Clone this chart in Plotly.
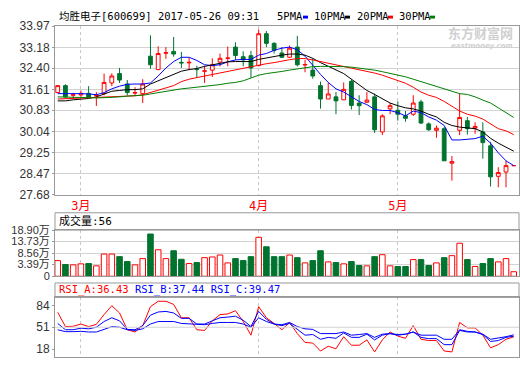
import plotly.graph_objects as go

W, H = 520, 365

# ---------------- data ----------------
open_ = [31.49, 31.75, 31.39, 31.40, 31.46, 31.38, 31.45, 31.85, 32.20, 31.81,
         31.47, 31.45, 32.85, 32.35, 32.96, 33.03, 32.62, 32.60, 32.36, 32.29,
         32.33, 32.63, 32.77, 33.19, 32.83, 32.87, 32.50, 33.69, 33.33, 32.97,
         32.81, 33.19, 32.52, 32.33, 31.75, 31.25, 31.33, 31.22, 31.91, 31.10,
         31.13, 31.33, 30.02, 30.88, 30.83, 30.62, 30.68, 31.14, 30.32, 30.08,
         30.14, 28.85, 30.08, 30.44, 30.16, 30.02, 29.50, 28.36, 28.52, 28.76]
high = [31.77, 31.80, 31.48, 31.57, 31.73, 31.51, 32.20, 32.21, 32.41, 31.96,
        31.69, 31.99, 33.63, 33.22, 33.19, 33.57, 33.01, 32.79, 32.49, 32.49,
        32.77, 32.95, 33.21, 33.37, 33.03, 33.05, 33.85, 33.79, 33.37, 33.19,
        33.25, 33.61, 32.71, 32.77, 31.90, 31.87, 31.51, 31.87, 31.99, 31.39,
        31.51, 31.45, 30.68, 31.10, 31.16, 30.80, 31.39, 31.22, 30.38, 30.26,
        30.20, 29.12, 31.46, 30.58, 30.38, 30.38, 29.65, 28.70, 28.94, 28.76]
low = [31.48, 31.30, 31.25, 31.33, 31.30, 30.99, 31.39, 31.73, 31.85, 31.39,
       31.37, 31.10, 32.38, 32.33, 32.75, 32.83, 32.41, 32.33, 32.04, 31.85,
       32.07, 32.47, 32.47, 32.71, 32.47, 32.04, 32.47, 33.19, 32.95, 32.78,
       32.78, 32.47, 32.25, 32.01, 30.89, 31.25, 30.68, 31.22, 30.86, 30.65,
       31.10, 29.98, 29.90, 30.68, 30.44, 30.40, 30.62, 30.32, 30.06, 29.80,
       28.94, 28.20, 29.90, 29.92, 29.95, 29.02, 27.98, 27.95, 27.95, 28.76]
close = [31.75, 31.33, 31.41, 31.46, 31.32, 31.40, 31.87, 32.11, 31.96, 31.49,
         31.49, 31.81, 32.53, 32.95, 32.98, 32.93, 32.60, 32.62, 32.35, 32.30,
         32.53, 32.77, 32.78, 32.88, 32.71, 32.41, 33.69, 33.33, 33.07, 32.81,
         33.15, 32.53, 32.54, 32.11, 31.25, 31.44, 31.18, 31.61, 31.01, 31.00,
         31.21, 30.10, 30.62, 31.00, 30.68, 30.53, 31.10, 30.35, 30.10, 30.16,
         28.94, 28.91, 30.56, 30.14, 30.22, 29.62, 28.34, 28.50, 28.76, 28.76]

ma5 = [31.45, 31.45, 31.47, 31.45, 31.44, 31.41, 31.49, 31.63, 31.73, 31.80,
       31.81, 31.81, 31.85, 32.11, 32.41, 32.65, 32.81, 32.81, 32.69, 32.53,
       32.50, 32.53, 32.64, 32.71, 32.73, 32.73, 32.89, 32.95, 33.07, 33.15,
       33.19, 33.09, 32.85, 32.50, 32.17, 31.87, 31.63, 31.51, 31.33, 31.16,
       31.04, 30.86, 30.82, 30.82, 30.74, 30.62, 30.80, 30.74, 30.58, 30.46,
       30.26, 29.72, 29.72, 29.74, 29.77, 29.86, 29.60, 29.24, 28.94, 28.76]
ma10 = [31.18, 31.18, 31.22, 31.24, 31.27, 31.33, 31.45, 31.54, 31.57, 31.60,
        31.60, 31.63, 31.81, 31.93, 32.05, 32.17, 32.29, 32.35, 32.39, 32.47,
        32.53, 32.59, 32.64, 32.65, 32.64, 32.65, 32.73, 32.79, 32.85, 32.89,
        32.93, 32.93, 32.89, 32.77, 32.61, 32.47, 32.35, 32.20, 31.99, 31.78,
        31.57, 31.42, 31.25, 31.10, 31.00, 30.92, 30.88, 30.80, 30.68, 30.58,
        30.38, 30.26, 30.20, 30.17, 30.14, 30.02, 29.78, 29.60, 29.46, 29.30]
ma20 = [31.25, 31.26, 31.28, 31.29, 31.30, 31.31, 31.32, 31.34, 31.35, 31.36,
        31.37, 31.41, 31.49, 31.57, 31.66, 31.75, 31.90, 31.99, 32.05, 32.11,
        32.15, 32.21, 32.28, 32.35, 32.41, 32.47, 32.53, 32.57, 32.61, 32.67,
        32.72, 32.76, 32.76, 32.71, 32.65, 32.59, 32.53, 32.47, 32.41, 32.36,
        32.29, 32.22, 32.14, 32.03, 31.93, 31.84, 31.69, 31.51, 31.39, 31.31,
        31.16, 30.98, 30.80, 30.68, 30.61, 30.50, 30.32, 30.14, 30.06, 29.92]
ma30 = [31.33, 31.32, 31.31, 31.30, 31.29, 31.29, 31.30, 31.31, 31.33, 31.36,
        31.37, 31.39, 31.44, 31.49, 31.54, 31.60, 31.63, 31.66, 31.69, 31.73,
        31.75, 31.79, 31.84, 31.87, 31.93, 32.03, 32.14, 32.20, 32.23, 32.28,
        32.33, 32.38, 32.42, 32.46, 32.47, 32.47, 32.47, 32.46, 32.44, 32.41,
        32.38, 32.33, 32.27, 32.21, 32.15, 32.08, 31.99, 31.90, 31.81, 31.73,
        31.63, 31.54, 31.45, 31.42, 31.33, 31.21, 31.10, 30.92, 30.74, 30.56]

# volume in 万 (as read against the printed labels)
volume = [5.16, 3.39, 3.24, 3.69, 3.83, 2.80, 8.12, 8.12, 6.94, 4.72,
          3.24, 6.05, 17.13, 10.04, 6.05, 9.59, 5.75, 3.83, 4.28, 6.49,
          6.79, 7.67, 4.13, 6.05, 5.16, 6.94, 15.65, 11.37, 6.94, 6.94,
          7.67, 6.49, 4.13, 5.16, 9.59, 4.57, 4.28, 3.69, 4.72, 2.95,
          2.80, 6.94, 7.82, 2.80, 2.50, 2.50, 5.60, 5.60, 2.95, 4.13,
          6.49, 7.38, 12.99, 5.60, 2.50, 3.83, 6.05, 4.57, 6.05, 0.14]

rsi_a = [73.5, 52, 52.4, 55.8, 52, 55.3, 70.1, 83.5, 72.5, 47.2,
         43.8, 53.4, 82.1, 90.2, 90.2, 85.4, 65.3, 65.3, 47.2, 46.2,
         60.6, 70.1, 71.1, 75.9, 59.6, 39, 82.1, 65.3, 56.7, 47.2,
         58.2, 41.4, 28, 27.1, 15.1, 22.3, 18.5, 36.7, 23.8, 23.8,
         31.9, 13.7, 31.9, 43.8, 37.6, 34.3, 53.4, 32.8, 30.9, 30.9,
         15.1, 13.7, 58.2, 50, 50, 39, 19.9, 24.7, 32.8, 36.43]
rsi_b = [56.7, 47.2, 47.2, 49.6, 48.6, 51, 59.6, 65.3, 60.6, 47.7,
         47.2, 53.4, 69.2, 74, 74.9, 72.5, 64.4, 64.4, 55.8, 55.8,
         60.6, 65.3, 66.3, 67.7, 61.5, 52, 74.9, 63, 55.8, 53.4,
         56.7, 47.2, 39, 40, 32.8, 35.7, 34.3, 42.4, 35.7, 35.7,
         40.5, 31.9, 39, 41.4, 39, 40.5, 43.8, 35.7, 33.8, 33.8,
         24.7, 24.7, 46.2, 43.8, 43.8, 40, 29.5, 30.9, 35.7, 37.44]
rsi_c = [47.2, 44.3, 44.3, 44.8, 43.8, 43.8, 47.7, 52, 51, 47.2,
         46.2, 48.6, 55.8, 59.6, 59.6, 59.6, 56.7, 55.8, 54.8, 54.8,
         56.7, 58.2, 58.2, 58.2, 55.8, 51, 65.3, 59.6, 55.8, 54.8,
         58.2, 52, 48.6, 47.7, 41.4, 41.4, 41.4, 43.8, 39, 40,
         41.4, 35.7, 40.5, 41.4, 40, 40.5, 43.8, 39, 39, 39,
         32.8, 32.8, 47.2, 44.8, 43.8, 40.5, 32.8, 34.3, 36.7, 39.47]

price_ticks = [27.68, 28.47, 29.25, 30.04, 30.83, 31.61, 32.40, 33.18, 33.97]
vol_ticks = [3.39, 8.56, 13.73, 18.90]
vol_floor = -1.9           # where the "0" label sits on the printed scale
rsi_ticks = [18, 51, 84]
month_idx = [3, 26, 44]
month_labels = ["3月", "4月", "5月"]

title_text = "均胜电子[600699] 2017-05-26 09:31"
vol_title = "成交量:56"
ma_names = ["5PMA", "10PMA", "20PMA", "30PMA"]

# ---------------- style ----------------
RED = "#ff0000"
GREEN = "#00732f"
BLUE = "#0000ff"
BORDER = "#999999"
GRID = "#d3d3d3"
TXT = "#333333"
MONO = "DejaVu Sans Mono, Noto Sans CJK SC, monospace"
SANS = "Liberation Sans, Arial, Noto Sans CJK SC, sans-serif"


def fx(p):
    return p / W


def fy(p):
    return 1 - p / H


idx = list(range(len(close)))
XR = [-0.35, 59.68]
XD = [fx(55), fx(519)]

fig = go.Figure()

fig.add_trace(go.Candlestick(
    x=idx, open=open_, high=high, low=low, close=close,
    increasing=dict(line=dict(color=RED, width=1), fillcolor="white"),
    decreasing=dict(line=dict(color=GREEN, width=1), fillcolor=GREEN),
    whiskerwidth=0, xaxis="x", yaxis="y", hoverinfo="skip"))

for vals, col in [(ma5, BLUE), (ma10, "#000000"), (ma20, RED), (ma30, "#008000")]:
    fig.add_trace(go.Scatter(x=idx, y=vals, mode="lines",
                             line=dict(color=col, width=1),
                             xaxis="x", yaxis="y", hoverinfo="skip"))

up = [c >= o for o, c in zip(open_, close)]
fig.add_trace(go.Bar(
    x=idx, y=[v - vol_floor for v in volume], base=vol_floor, width=0.72,
    marker=dict(color=["white" if u else GREEN for u in up],
                line=dict(color=[RED if u else GREEN for u in up], width=1)),
    xaxis="x2", yaxis="y2", hoverinfo="skip"))

for vals, col in [(rsi_a, RED), (rsi_b, BLUE), (rsi_c, BLUE)]:
    fig.add_trace(go.Scatter(x=idx, y=vals, mode="lines",
                             line=dict(color=col, width=1),
                             xaxis="x3", yaxis="y3", hoverinfo="skip"))

xcommon = dict(range=XR, domain=XD, tickvals=month_idx, showgrid=True,
               gridcolor="#c8c8c8", griddash="3px,3px", gridwidth=1,
               showline=True, mirror=True, linecolor=BORDER, linewidth=1,
               zeroline=False, ticks="", fixedrange=True)
ycommon = dict(showline=True, mirror=True, linecolor=BORDER, linewidth=1,
               zeroline=False, ticks="outside", ticklen=2, tickcolor=BORDER,
               tickfont=dict(family=SANS, size=12, color=TXT), fixedrange=True)

fig.update_layout(
    width=W, height=H, margin=dict(l=0, r=0, t=0, b=0),
    paper_bgcolor="white", plot_bgcolor="white", showlegend=False,
    boxgap=0.3,
    xaxis=dict(**xcommon, ticktext=month_labels, showticklabels=True,
               tickfont=dict(family=MONO, size=12, color=RED),
               rangeslider=dict(visible=False), anchor="y"),
    yaxis=dict(**ycommon, domain=[fy(195), fy(20)], range=[27.68, 33.97],
               tickvals=price_ticks, ticktext=["%.2f" % v for v in price_ticks],
               showgrid=True, gridcolor=GRID, anchor="x"),
    xaxis2=dict(**xcommon, showticklabels=False, anchor="y2"),
    yaxis2=dict(**ycommon, domain=[fy(280), fy(232)], range=[vol_floor, 18.90],
                tickvals=[vol_floor] + vol_ticks,
                ticktext=["0"] + ["%.2f万" % v for v in vol_ticks],
                showgrid=True, gridcolor=GRID, anchor="x2"),
    xaxis3=dict(**xcommon, showticklabels=False, anchor="y3"),
    yaxis3=dict(**ycommon, domain=[fy(364), fy(302)], range=[6, 96],
                tickvals=rsi_ticks, ticktext=[str(v) for v in rsi_ticks],
                showgrid=False, anchor="x3"),
)
fig.update_yaxes(selector=dict(anchor="x2"), tickfont=dict(family=SANS, size=11, color=TXT))

shapes = []
# header boxes
for top, bot in [(214, 232), (287, 302)]:
    shapes.append(dict(type="rect", xref="paper", yref="paper",
                       x0=fx(55), x1=fx(519), y0=fy(bot), y1=fy(top),
                       line=dict(color=BORDER, width=1), fillcolor="rgba(0,0,0,0)"))
# RSI mid line
shapes.append(dict(type="line", xref="x3 domain", yref="y3", x0=0, x1=1,
                   y0=51, y1=51, line=dict(color=GRID, width=1)))
# legend swatches
sw = [(303, BLUE), (345, "#000000"), (388, RED), (430, "#008000")]
for x0, col in sw:
    shapes.append(dict(type="rect", xref="paper", yref="paper",
                       x0=fx(x0), x1=fx(x0 + 5), y0=fy(12), y1=fy(9),
                       line=dict(width=0), fillcolor=col))

ann = []
ann.append(dict(text=title_text, x=fx(57), y=fy(9), xref="paper", yref="paper",
                xanchor="left", yanchor="middle", showarrow=False,
                font=dict(family=MONO, size=10.5, color="#000000")))
for xs, name in zip([275, 312, 355, 397], ma_names):
    ann.append(dict(text=name, x=fx(xs), y=fy(9), xref="paper", yref="paper",
                    xanchor="left", yanchor="middle", showarrow=False,
                    font=dict(family=MONO, size=10.5, color="#000000")))
ann.append(dict(text=vol_title, x=fx(57), y=fy(223), xref="paper", yref="paper",
                xanchor="left", yanchor="middle", showarrow=False,
                font=dict(family=MONO, size=11, color="#000000")))
rsi_txt = ("<span style='color:%s'>RSI_A:%.2f</span> "
           "<span style='color:%s'>RSI_B:%.2f</span> "
           "<span style='color:%s'>RSI_C:%.2f</span>") % (RED, rsi_a[-1], BLUE, rsi_b[-1], BLUE, rsi_c[-1])
ann.append(dict(text=rsi_txt, x=fx(57), y=fy(294), xref="paper", yref="paper",
                xanchor="left", yanchor="middle", showarrow=False,
                font=dict(family=MONO, size=10.5, color=BLUE)))
# watermark
ann.append(dict(text="<b>东方财富网</b>", x=fx(446), y=fy(27), xref="paper", yref="paper",
                xanchor="left", yanchor="middle", showarrow=False,
                font=dict(family="Noto Sans CJK SC", size=13, color="#d0d0d0")))
ann.append(dict(text="<b><i>eastmoney.com</i></b>", x=fx(449), y=fy(41), xref="paper", yref="paper",
                xanchor="left", yanchor="middle", showarrow=False,
                font=dict(family="DejaVu Sans", size=7, color="#d0d0d0")))

fig.update_layout(shapes=shapes, annotations=ann)
fig.write_html("out.html", config={"displayModeBar": False},
               post_script="document.body.style.margin='0';")
